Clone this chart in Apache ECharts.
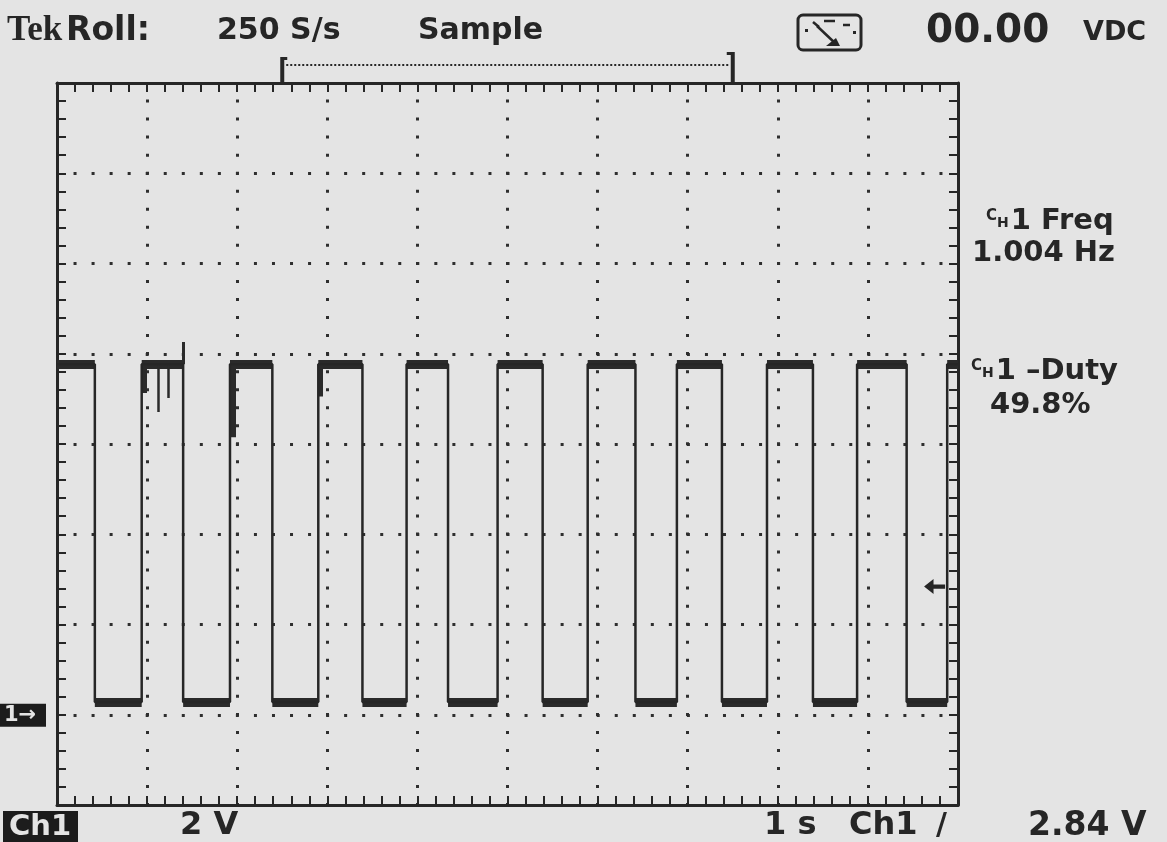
<!DOCTYPE html>
<html><head><meta charset="utf-8">
<script src="https://cdn.jsdelivr.net/npm/echarts@6/dist/echarts.min.js"></script>
<style>html,body{margin:0;padding:0;background:#e4e4e4;}#c{width:1167px;height:842px;}</style>
</head><body><div id="c"></div>
<script>
const timeRange = [0, 10];          // s (1 s/div, 10 div)
const voltRange = [-2, 14];         // V (2 V/div, 8 div)
const fallTimes = [0.42, 1.40, 2.39, 3.39, 4.34, 5.39, 6.42, 7.38, 8.39, 9.43];
const riseTimes = [0.94, 1.92, 2.90, 3.88, 4.89, 5.89, 6.88, 7.88, 8.88, 9.88];
const levels = [7.77, 0.28];        // high, low (V)
const glitches = [ // [time, from V, to V, width]
  [0.96, 7.77, 7.13, 6],
  [1.12, 7.77, 6.71, 2.5],
  [1.23, 7.77, 7.02, 2.5],
  [1.40, 7.77, 8.26, 3],
  [1.95, 7.77, 6.15, 6],
  [2.92, 7.77, 7.05, 5]
];
const triggerLevel = 2.84;
const recordWindow = [2.5, 7.5];
const headerTexts = ['Tek', 'Roll:', '250 S/s', 'Sample', '00.00', 'VDC'];
const measureTexts = ['1 Freq', '1.004 Hz', '1 \u2013Duty', '49.8%'];
const footerTexts = ['Ch1', '2 V', '1 s', 'Ch1', '/', '2.84 V'];

const INK = '#262626';
const high = levels[0], low = levels[1];

// square-wave trace built from the edge times
const trace = [[timeRange[0], high]];
fallTimes.forEach((f, i) => {
  trace.push([f, high], [f, low]);
  if (i < riseTimes.length) trace.push([riseTimes[i], low], [riseTimes[i], high]);
});
trace.push([timeRange[1], high]);

// plateau bands (noisy thick trace)
const bands = [];
bands.push({coords: [[timeRange[0], high], [fallTimes[0], high]]});
fallTimes.forEach((f, i) => {
  bands.push({coords: [[f, low], [riseTimes[i], low]]});
  const nextFall = i + 1 < fallTimes.length ? fallTimes[i + 1] : timeRange[1];
  bands.push({coords: [[riseTimes[i], high], [nextFall, high]]});
});
const glitchLines = glitches.map(g => ({coords: [[g[0], g[1]], [g[0], g[2]]], lineStyle: {width: g[3]}}));

const chart = echarts.init(document.getElementById('c'), null, {renderer: 'canvas'});

function axisCommon(extra) {
  return Object.assign({
    type: 'value',
    axisLine: {show: true, onZero: false, lineStyle: {color: INK, width: 3}},
    axisTick: {show: true, inside: true, length: 9, lineStyle: {color: INK, width: 2}},
    minorTick: {show: true, splitNumber: 5, length: 9, lineStyle: {color: INK, width: 2}},
    axisLabel: {show: false},
    splitLine: {show: false}
  }, extra);
}
const dotted = {show: true, lineStyle: {color: '#2e2e2e', width: 3, type: [3, 15.04], dashOffset: 1.5}};

chart.setOption({
  backgroundColor: '#e4e4e4',
  animation: false,
  grid: {left: 57, top: 83, width: 901, height: 722},
  xAxis: [
    axisCommon({min: timeRange[0], max: timeRange[1], interval: 1, position: 'bottom', splitLine: dotted}),
    axisCommon({min: timeRange[0], max: timeRange[1], interval: 1, position: 'top'})
  ],
  yAxis: [
    axisCommon({min: voltRange[0], max: voltRange[1], interval: 2, position: 'left', splitLine: dotted}),
    axisCommon({min: voltRange[0], max: voltRange[1], interval: 2, position: 'right'})
  ],
  series: [
    {
      name: 'CH1', type: 'line', data: trace, showSymbol: false, symbol: 'none',
      lineStyle: {color: INK, width: 2.5}, silent: true,
      markPoint: {
        silent: true,
        symbol: 'path://M0,7 L9,0 L9,5 L20,5 L20,9 L9,9 L9,14 Z',
        symbolSize: [21, 15],
        itemStyle: {color: INK},
        label: {show: false},
        data: [{coord: [9.74, triggerLevel]}]
      }
    },
    {
      type: 'lines', coordinateSystem: 'cartesian2d', silent: true,
      lineStyle: {color: '#2a2a2a', width: 9, opacity: 1, curveness: 0},
      data: bands
    },
    {
      type: 'lines', coordinateSystem: 'cartesian2d', silent: true,
      lineStyle: {color: '#2a2a2a', width: 2.5, opacity: 1, curveness: 0},
      data: glitchLines
    }
  ]
});

// ---- screen annotations ----
const px = (t, v) => chart.convertToPixel({gridIndex: 0}, [t, v]);
const y0 = px(0, 0)[1];
const bL = px(recordWindow[0], 0)[0], bR = px(recordWindow[1], 0)[0];
const gridTop = px(0, voltRange[1])[1];

function txt(text, x, y, font, opts) {
  return Object.assign({
    type: 'text', silent: true,
    style: Object.assign({text: text, x: x, y: y, font: font, fill: INK,
      align: 'left', textAlign: 'left', verticalAlign: 'middle', textVerticalAlign: 'middle'}, opts || {})
  });
}
const F = (s) => 'bold ' + s + 'px "DejaVu Sans"';
const richCH = {
  c: {fontSize: 15, fontWeight: 'bold', fontFamily: 'DejaVu Sans', fill: INK, padding: [0, 0, 10, 0]},
  h: {fontSize: 14, fontWeight: 'bold', fontFamily: 'DejaVu Sans', fill: INK, padding: [4, 2, 0, 0]},
  m: {fontSize: 29, fontWeight: 'bold', fontFamily: 'DejaVu Sans', fill: INK}
};

const elements = [
  txt(headerTexts[0], 7, 31, 'bold 35px "Liberation Serif"'),
  txt(headerTexts[1], 66, 31, F(33)),
  txt(headerTexts[2], 217, 31, F(30)),
  txt(headerTexts[3], 418, 31, F(30)),
  txt(headerTexts[4], 926, 32, F(39)),
  txt(headerTexts[5], 1083, 33, F(27)),
  // meter icon
  {type: 'rect', silent: true, shape: {x: 798, y: 15, width: 63, height: 35, r: 5},
   style: {fill: 'none', stroke: INK, lineWidth: 3}},
  {type: 'polyline', silent: true, shape: {points: [[813, 22], [819, 27]]}, style: {stroke: INK, lineWidth: 2.5, fill: 'none'}},
  {type: 'line', silent: true, shape: {x1: 824, y1: 21, x2: 835, y2: 21}, style: {stroke: INK, lineWidth: 2.5}},
  {type: 'line', silent: true, shape: {x1: 843, y1: 25, x2: 850, y2: 25}, style: {stroke: INK, lineWidth: 2.5}},
  {type: 'rect', silent: true, shape: {x: 805, y: 29, width: 3, height: 3}, style: {fill: INK}},
  {type: 'rect', silent: true, shape: {x: 853, y: 31, width: 3, height: 3}, style: {fill: INK}},
  {type: 'line', silent: true, shape: {x1: 817, y1: 26, x2: 836, y2: 44}, style: {stroke: INK, lineWidth: 2.5}},
  {type: 'polygon', silent: true, shape: {points: [[826, 46], [840, 46], [836, 38]]}, style: {fill: INK}},
  // record window bracket
  {type: 'rect', silent: true, shape: {x: bL - 2, y: 57, width: 4, height: gridTop - 57}, style: {fill: INK}},
  {type: 'rect', silent: true, shape: {x: bL, y: 57, width: 5, height: 3}, style: {fill: INK}},
  {type: 'rect', silent: true, shape: {x: bR - 2, y: 52, width: 4, height: gridTop - 52}, style: {fill: INK}},
  {type: 'rect', silent: true, shape: {x: bR - 6, y: 52, width: 5, height: 3}, style: {fill: INK}},
  {type: 'line', silent: true, shape: {x1: bL + 4, y1: 65, x2: bR - 4, y2: 65},
   style: {stroke: INK, lineWidth: 2, lineDash: [2, 2]}},
  // measurements
  {type: 'text', silent: true, style: {text: '{c|C}{h|H}{m|' + measureTexts[0] + '}', rich: richCH,
    x: 986, y: 221, align: 'left', textAlign: 'left', verticalAlign: 'middle', textVerticalAlign: 'middle'}},
  txt(measureTexts[1], 972, 253, F(29)),
  {type: 'text', silent: true, style: {text: '{c|C}{h|H}{m|' + measureTexts[2] + '}', rich: richCH,
    x: 971, y: 371, align: 'left', textAlign: 'left', verticalAlign: 'middle', textVerticalAlign: 'middle'}},
  txt(measureTexts[3], 990, 405, F(29)),
  // ground marker
  {type: 'rect', silent: true, shape: {x: 0, y: y0 - 11, width: 46, height: 23}, style: {fill: '#1c1c1c'}},
  txt('1\u2192', 4, y0 + 1, F(21), {fill: '#e4e4e4'}),
  // footer
  {type: 'rect', silent: true, shape: {x: 3, y: 811, width: 75, height: 31}, style: {fill: '#1c1c1c'}},
  txt(footerTexts[0], 9, 827, F(29), {fill: '#e4e4e4'}),
  txt(footerTexts[1], 180, 826, F(32)),
  txt(footerTexts[2], 764, 826, F(32)),
  txt(footerTexts[3], 849, 826, F(32)),
  txt(footerTexts[4], 936, 826, F(30)),
  txt(footerTexts[5], 1028, 826, F(33))
];
chart.setOption({graphic: {elements: elements}});
</script></body></html>
